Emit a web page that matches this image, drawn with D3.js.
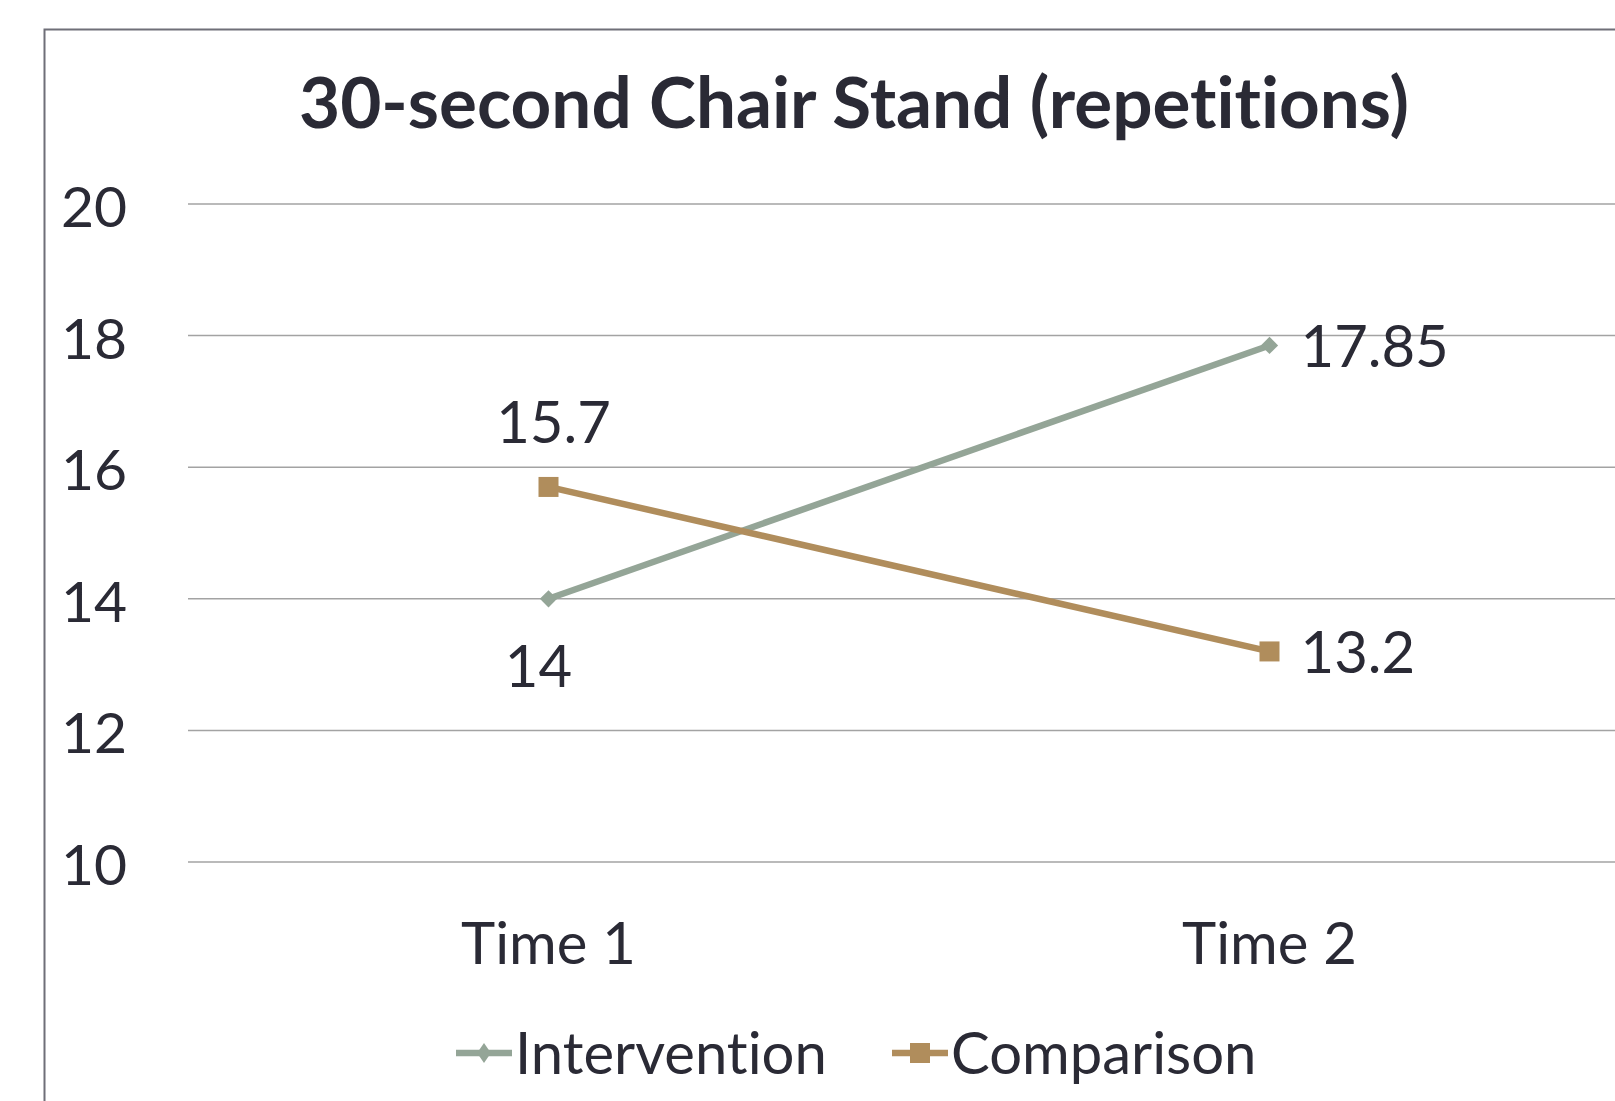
<!DOCTYPE html>
<html>
<head>
<meta charset="utf-8">
<script src="https://cdn.jsdelivr.net/npm/d3@7"></script>
<style>
  body { margin: 0; background: #fff; }
  text { font-family: Lato, "Open Sans", sans-serif; fill: #2a2a35; font-variant-ligatures: none; }
</style>
</head>
<body>
<div id="chart"></div>
<script>
// 30-second chair stand line chart

const categories = ["Time 1", "Time 2"];
const seriesNames = ["Intervention", "Comparison"];
const intervention = [14, 17.85];
const comparison = [15.7, 13.2];
const yTicks = [10, 12, 14, 16, 18, 20];

const width = 1615,
    height = 1101,
    margin = ({ top: 204, right: -15, bottom: 239, left: 188 });

const colors = ["#94a597", "#b08d5c"];
// where Excel put each data label
const labelPos = [["below", "right"], ["above", "right"]];

const svg = d3.select("#chart")
    .append("svg")
    .attr("width", width)
    .attr("height", height);

// chart border (cropped on right and bottom)
svg.append("rect")
    .attr("x", 44.5)
    .attr("y", 29.5)
    .attr("width", width)
    .attr("height", height)
    .attr("fill", "none")
    .attr("stroke", "#6f6f78")
    .attr("stroke-width", 2);

const x = d3.scaleBand()
    .domain(categories)
    .range([margin.left, width - margin.right]);

const y = d3.scaleLinear()
    .domain([10, 20])
    .range([height - margin.bottom, margin.top]);

const cx = d => x(d) + x.bandwidth() / 2;

// title
svg.append("text")
    .attr("x", 854)
    .attr("y", 128)
    .attr("text-anchor", "middle")
    .attr("font-weight", "bold")
    .attr("font-size", 71)
    .text("30-second Chair Stand (repetitions)");

// gridlines
svg.append("g")
    .selectAll("line")
    .data(yTicks)
    .join("line")
    .attr("x1", margin.left)
    .attr("x2", width - margin.right)
    .attr("y1", d => y(d))
    .attr("y2", d => y(d))
    .attr("stroke", "#a3a3a3")
    .attr("stroke-width", 1.5);

// y labels
svg.append("g")
    .selectAll("text")
    .data(yTicks)
    .join("text")
    .attr("x", 127)
    .attr("y", d => y(d) + 23)
    .attr("text-anchor", "end")
    .attr("font-size", 57)
    .text(d => d);

// x labels
svg.append("g")
    .selectAll("text")
    .data(categories)
    .join("text")
    .attr("x", d => cx(d))
    .attr("y", 964)
    .attr("text-anchor", "middle")
    .attr("font-size", 58)
    .text(d => d);

const line = d3.line()
    .x((d, i) => cx(categories[i]))
    .y(d => y(d));

const series = [intervention, comparison];
const diamond = d3.symbol().type(d3.symbolDiamond2).size(190);

series.forEach((vals, s) => {
    const g = svg.append("g");
    g.append("path")
        .attr("d", line(vals))
        .attr("fill", "none")
        .attr("stroke", colors[s])
        .attr("stroke-width", 6.5);

    if (s === 0) {
        g.selectAll("path.mark")
            .data(vals)
            .join("path")
            .attr("class", "mark")
            .attr("transform", (d, i) => `translate(${cx(categories[i])},${y(d)})`)
            .attr("d", diamond())
            .attr("fill", colors[s]);
    } else {
        g.selectAll("rect")
            .data(vals)
            .join("rect")
            .attr("x", (d, i) => cx(categories[i]) - 10)
            .attr("y", d => y(d) - 10)
            .attr("width", 20)
            .attr("height", 20)
            .attr("fill", colors[s]);
    }

    // data labels
    g.selectAll("text")
        .data(vals)
        .join("text")
        .attr("font-size", 58)
        .attr("text-anchor", (d, i) => labelPos[s][i] === "right" ? "start" : "middle")
        .attr("x", (d, i) => {
            const p = labelPos[s][i];
            return cx(categories[i]) + (p === "right" ? 31 : p === "below" ? -10 : 5);
        })
        .attr("y", (d, i) => {
            const p = labelPos[s][i];
            return y(d) + (p === "right" ? 22 : p === "below" ? 88 : -44);
        })
        .text(d => d);
});

// legend
const legend = svg.append("g")
    .selectAll("g")
    .data(seriesNames)
    .join("g")
    .attr("transform", (d, i) => `translate(${[456, 892][i]},1053)`);

legend.append("line")
    .attr("x1", 0)
    .attr("x2", 56)
    .attr("stroke", (d, i) => colors[i])
    .attr("stroke-width", 6.5);

legend.each(function (d, i) {
    const g = d3.select(this);
    if (i === 0) {
        g.append("path")
            .attr("transform", "translate(28,0) scale(0.8,1.15)")
            .attr("d", diamond())
            .attr("fill", colors[i]);
    } else {
        g.append("rect")
            .attr("x", 18).attr("y", -10)
            .attr("width", 20).attr("height", 20)
            .attr("fill", colors[i]);
    }
});

legend.append("text")
    .attr("x", 59)
    .attr("y", 21)
    .attr("font-size", 58)
    .text(d => d);
</script>
</body>
</html>
